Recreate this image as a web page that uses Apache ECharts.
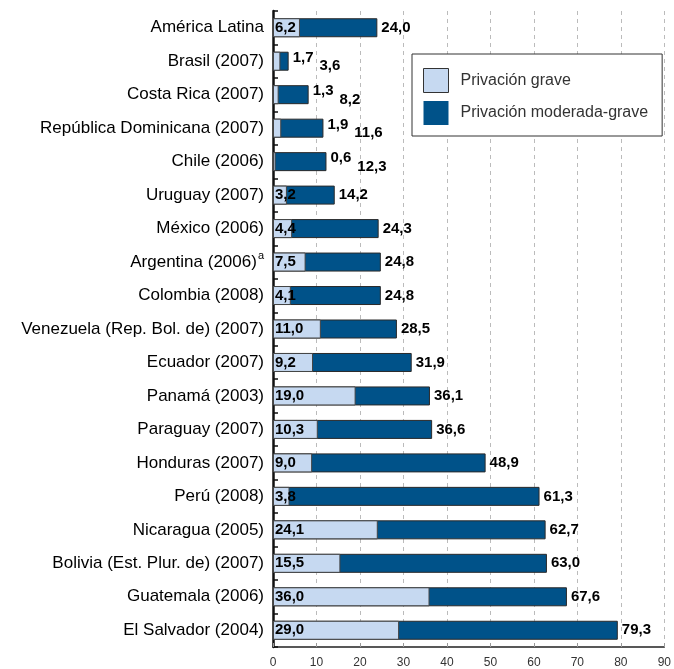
<!DOCTYPE html>
<html><head><meta charset="utf-8">
<script src="https://cdn.jsdelivr.net/npm/echarts@6/dist/echarts.min.js"></script>
<style>html,body{margin:0;padding:0;background:#fff}#c{width:674px;height:669px}</style>
</head><body><div id="c"></div>
<script>
const categories = ["América Latina","Brasil (2007)","Costa Rica (2007)","República Dominicana (2007)","Chile (2006)","Uruguay (2007)","México (2006)","Argentina (2006)","Colombia (2008)","Venezuela (Rep. Bol. de) (2007)","Ecuador (2007)","Panamá (2003)","Paraguay (2007)","Honduras (2007)","Perú (2008)","Nicaragua (2005)","Bolivia (Est. Plur. de) (2007)","Guatemala (2006)","El Salvador (2004)"];
const grave = [6.2,1.7,1.3,1.9,0.6,3.2,4.4,7.5,4.1,11.0,9.2,19.0,10.3,9.0,3.8,24.1,15.5,36.0,29.0];
const moderadaGrave = [24.0,3.6,8.2,11.6,12.3,14.2,24.3,24.8,24.8,28.5,31.9,36.1,36.6,48.9,61.3,62.7,63.0,67.6,79.3];
const xTicks = [0,10,20,30,40,50,60,70,80,90];
const footnoteCat = "Argentina (2006)";
const legendNames = ["Privación grave","Privación moderada-grave"];

const fmt = v => v.toFixed(1).replace('.', ',');
const smallGrave = v => v < 2;

const chart = echarts.init(document.getElementById('c'));
chart.setOption({
  animation: false,
  textStyle: {fontFamily: 'Liberation Sans, Arial, sans-serif'},
  grid: {left: 273, right: 5, top: 11, bottom: 22, containLabel: false},
  legend: {
    orient: 'vertical', left: 412, top: 54,
    padding: [14, 14, 11, 11],
    itemWidth: 25, itemHeight: 24, itemGap: 8,
    backgroundColor: '#fff', borderColor: '#333', borderWidth: 1,
    textStyle: {fontSize: 16, color: '#333', padding: [0, 0, 0, 7]},
    data: [
      {name: legendNames[0], icon: 'rect', itemStyle: {borderColor: '#333', borderWidth: 1}},
      {name: legendNames[1], icon: 'rect', itemStyle: {borderWidth: 0}}
    ]
  },
  xAxis: {
    type: 'value', min: xTicks[0], max: xTicks[xTicks.length-1], interval: 10,
    axisLine: {show: true, lineStyle: {color: '#222', width: 1.5}},
    axisTick: {show: true, inside: true, length: 4, lineStyle: {color: '#999'}},
    axisLabel: {fontSize: 12, color: '#333', margin: 10},
    splitLine: {show: true, lineStyle: {type: [4, 4], color: '#bbb', width: 1}}
  },
  yAxis: {
    type: 'category', inverse: true, data: categories,
    axisLine: {show: true, lineStyle: {color: '#111', width: 2.5}},
    axisTick: {show: true, inside: true, length: 5, alignWithLabel: false, lineStyle: {color: '#111', width: 1.5}},
    axisLabel: {
      fontSize: 17, color: '#000', margin: 9,
      formatter: v => v === footnoteCat ? v + '{sup|a}' : v,
      rich: {sup: {fontSize: 11, color: '#000', verticalAlign: 'top', padding: [0,0,12,1]}}
    }
  },
  series: [
    {
      name: legendNames[1], type: 'bar', barWidth: 19, barGap: '-100%', z: 2,
      itemStyle: {color: '#005289', borderColor: '#2a2a2a', borderWidth: 1},
      data: moderadaGrave,
      label: {
        show: true, position: 'right', distance: 4,
        fontSize: 15, fontWeight: 'bold', color: '#000',
        formatter: p => {
          const g = grave[p.dataIndex];
          if (smallGrave(g)) return '{up|' + fmt(g) + '}{dn|' + fmt(p.value) + '}';
          return fmt(p.value);
        },
        rich: {
          up: {fontSize: 15, fontWeight: 'bold', color: '#000', padding: [0, 6, 7, 0]},
          dn: {fontSize: 15, fontWeight: 'bold', color: '#000', padding: [10, 0, 0, 0]}
        }
      }
    },
    {
      name: legendNames[0], type: 'bar', barWidth: 19, z: 3,
      itemStyle: {color: '#c6d9f1', borderColor: '#444', borderWidth: 1},
      data: grave,
      label: {
        show: true, position: 'insideLeft', distance: 2,
        fontSize: 15, fontWeight: 'bold', color: '#000',
        formatter: p => smallGrave(p.value) ? '' : fmt(p.value)
      }
    }
  ]
});
</script></body></html>
